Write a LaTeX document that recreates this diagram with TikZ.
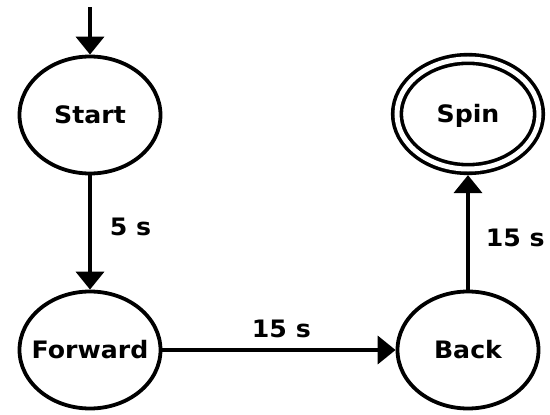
\documentclass[tikz,border=0pt]{standalone}
\usepackage{fontspec}
\newfontfamily\statefont{DejaVu Sans}[FakeStretch=1.05]
\usetikzlibrary{shapes.geometric,arrows.meta}
\begin{document}
\begin{tikzpicture}[x=1pt,y=-1pt,
  txt/.style={font=\statefont\bfseries\fontsize{24}{28}\selectfont,
    text height=17pt, text depth=0pt},
  state/.style={ellipse, draw, line width=3.8pt, txt,
    minimum width=141pt, minimum height=117pt, inner ysep=0pt, inner xsep=-30pt},
  accepting/.style={double, double distance=5pt, line width=3.6pt, outer sep=6.1pt,
    minimum width=142pt, minimum height=110pt},
  conn/.style={line width=3.8pt, -{Triangle[length=18pt,width=28pt]}},
  lbl/.style={txt, inner sep=0pt}]
\useasboundingbox (0,0) rectangle (550,415);

% states
\node[state] (start) at (90,115) {Start};
\node[state] (fwd)   at (90,350) {Forward};
\node[state] (back)  at (468,350) {Back};
\node[state, accepting] (spin) at (468,114) {Spin};

% initial arrow
\coordinate (init) at (90,7);
\draw[conn] (init) -- (start);

% transitions
\draw[conn] (start) -- node[lbl, pos=0.45, right=18pt] {5 s} (fwd);
\draw[conn] (fwd) -- node[lbl, pos=0.51, above=11pt] {15 s} (back);
\draw[conn] (back) -- node[lbl, pos=0.45, right=16pt] {15 s} (spin);
\end{tikzpicture}
\end{document}
